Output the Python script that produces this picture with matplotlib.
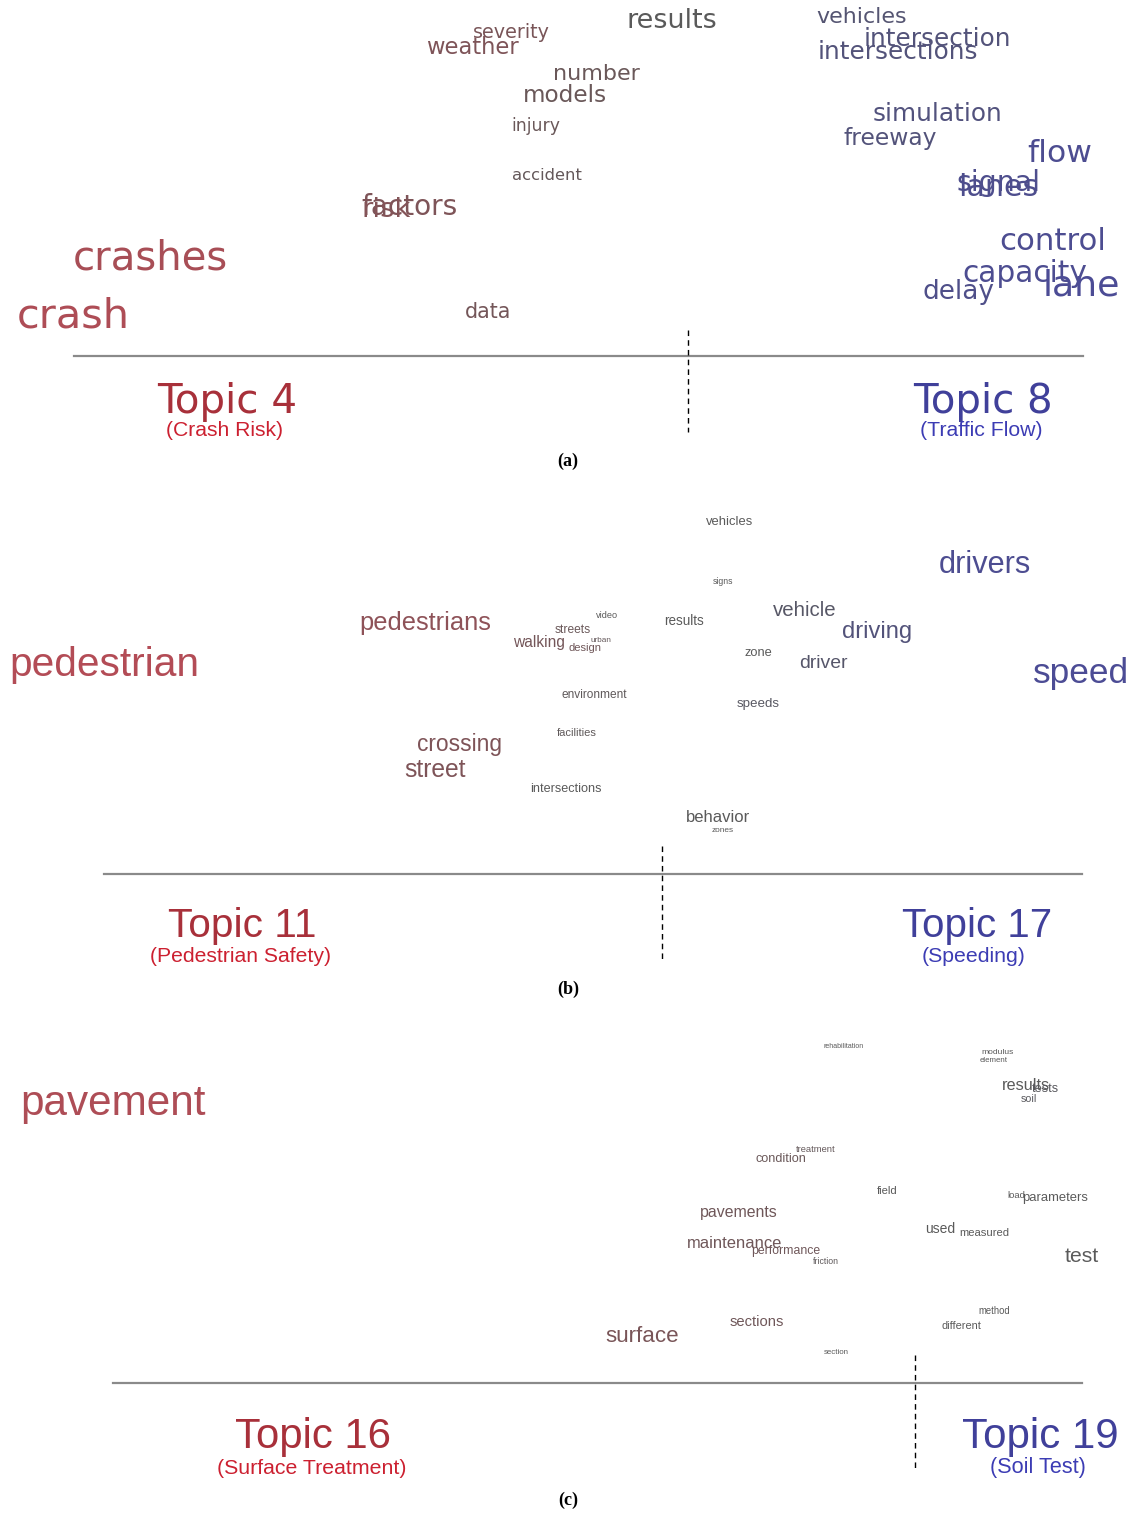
import matplotlib
matplotlib.use("Agg")
import matplotlib.pyplot as plt
from matplotlib.colors import LinearSegmentedColormap

# word lists per panel: word, x, y (pixel layout), width (~frequency), assoc (-1 left topic .. +1 right topic)
a_words = ["severity", "weather", "results", "number", "models", "injury", "accident",
           "factors", "risk", "crashes", "crash", "data", "vehicles", "intersection",
           "intersections", "simulation", "freeway", "flow", "signal", "lanes", "control",
           "capacity", "lane", "delay"]
a_x = [511, 472, 672, 596, 565, 536, 547, 410, 386, 150, 73, 488, 862, 937,
       898, 937, 890, 1060, 998, 998, 1053, 1025, 1081, 958]
a_y = [33, 47, 21, 74, 96, 126, 175, 207, 210, 259, 317, 312, 17, 39,
       52, 114, 138, 154, 183, 188, 242, 274, 286, 292]
a_w = [77, 93, 90, 87, 84, 49, 70, 97, 49, 155, 113, 47, 90, 147,
       159, 129, 94, 65, 84, 80, 107, 126, 78, 72]
a_assoc = [-0.3, -0.35, 0.0, -0.15, -0.15, -0.15, -0.1, -0.35, -0.4, -0.75, -0.8, -0.25,
           0.3, 0.4, 0.4, 0.45, 0.4, 0.7, 0.65, 0.65, 0.7, 0.7, 0.75, 0.6]

b_words = ["vehicles", "signs", "drivers", "pedestrians", "video", "streets", "urban",
           "walking", "design", "results", "vehicle", "driving", "zone", "driver",
           "pedestrian", "speed", "environment", "speeds", "facilities", "crossing",
           "street", "intersections", "behavior", "zones"]
b_x = [730, 723, 985, 425, 607, 573, 601, 539, 585, 684, 805, 877, 758, 823,
       104, 1081, 594, 758, 577, 460, 435, 566, 718, 723]
b_y = [522, 582, 565, 623, 616, 630, 640, 643, 648, 621, 611, 632, 653, 663,
       665, 674, 695, 704, 733, 745, 770, 789, 817, 830]
b_w = [47, 20, 93, 132, 22, 36, 21, 52, 33, 40, 64, 70, 28, 49,
       190, 96, 66, 43, 40, 85, 62, 71, 64, 22]
b_assoc = [0.0, 0.0, 0.7, -0.5, 0.0, -0.15, -0.1, -0.25, -0.2, 0.0, 0.15, 0.4, 0.0, 0.2,
           -0.85, 0.75, -0.05, 0.1, -0.05, -0.35, -0.35, 0.0, 0.0, 0.0]

c_words = ["rehabilitation", "modulus", "element", "results", "tests", "soil", "pavement",
           "treatment", "condition", "field", "load", "parameters", "pavements", "used",
           "measured", "maintenance", "performance", "friction", "test", "method",
           "different", "sections", "surface", "section"]
c_x = [844, 998, 994, 1026, 1045, 1029, 113, 816, 781, 887, 1016, 1055, 739, 940,
       984, 735, 786, 826, 1082, 994, 961, 757, 642, 836]
c_y = [1047, 1052, 1061, 1085, 1089, 1099, 1104, 1149, 1159, 1191, 1196, 1198, 1213, 1229,
       1233, 1243, 1251, 1261, 1256, 1311, 1326, 1322, 1336, 1353]
c_w = [40, 32, 28, 48, 27, 16, 186, 40, 51, 21, 18, 66, 78, 30,
       50, 95, 69, 26, 34, 32, 40, 54, 74, 25]
c_assoc = [0.0, 0.0, 0.0, 0.0, 0.05, 0.05, -0.8, -0.1, -0.15, 0.0, 0.0, 0.0, -0.2, 0.0,
           0.0, -0.2, -0.2, -0.05, 0.0, 0.0, 0.0, -0.2, -0.3, 0.0]

topics = [("Topic 4", "(Crash Risk)", "Topic 8", "(Traffic Flow)"),
          ("Topic 11", "(Pedestrian Safety)", "Topic 17", "(Speeding)"),
          ("Topic 16", "(Surface Treatment)", "Topic 19", "(Soil Test)")]
panel_tags = ["(a)", "(b)", "(c)"]

W, H = 1132, 1515
fig = plt.figure(figsize=(W / 100, H / 100), dpi=100)
renderer = fig.canvas.get_renderer()

cmap = LinearSegmentedColormap.from_list(
    "topic", [(0.0, "#c24a55"), (0.5, "#5a5a5a"), (1.0, "#4848a8")])


def fit_text(ax, x, y, s, width, **kw):
    t = ax.text(x, y, s, fontsize=10, ha="center", va="center", **kw)
    wpx = t.get_window_extent(renderer).width
    t.set_fontsize(10 * width / wpx)
    return t


# pixel bands of the three panels
bands = [(0, 475), (475, 1000), (1000, 1515)]
panels = [(a_words, a_x, a_y, a_w, a_assoc, "DejaVu Sans"),
          (b_words, b_x, b_y, b_w, b_assoc, "Liberation Sans"),
          (c_words, c_x, c_y, c_w, c_assoc, "Liberation Sans")]
# baseline, divider and label layout per panel
axis_y = [356, 874, 1383]
axis_x = [(74, 1083), (104, 1082), (113, 1082)]
div_x = [688, 662, 915]
div_y = [(330, 432), (846, 960), (1355, 1468)]
lab_left = [(227, 225), (242, 240), (313, 312)]
lab_right = [(983, 981), (977, 974), (1040, 1038)]
lab_y = [(402, 430), (926, 957), (1437, 1468)]
lab_w = [(140, 118, 140, 124), (148, 182, 150, 104), (156, 190, 156, 96)]
tag_y = [461, 989, 1500]

for i, (top, bot) in enumerate(bands):
    ax = fig.add_axes([0, 1 - bot / H, 1, (bot - top) / H])
    ax.set_xlim(0, W)
    ax.set_ylim(bot, top)
    ax.axis("off")

    words, xs, ys, ws, assoc, fam = panels[i]
    for w, x, y, wd, a in zip(words, xs, ys, ws, assoc):
        fit_text(ax, x, y, w, wd, color=cmap((a + 1) / 2), family=fam)

    ax.plot(axis_x[i], [axis_y[i], axis_y[i]], color="#8a8a8a", lw=1.6)
    ax.plot([div_x[i], div_x[i]], div_y[i], color="black", lw=1, ls=(0, (4, 3)))

    lt, ls_, rt, rs = topics[i]
    tfam = "DejaVu Sans" if i == 0 else "Liberation Sans"
    fit_text(ax, lab_left[i][0], lab_y[i][0], lt, lab_w[i][0], color="#a8303a", family=tfam)
    fit_text(ax, lab_left[i][1], lab_y[i][1], ls_, lab_w[i][1], color="#cc2030", family="Liberation Sans")
    fit_text(ax, lab_right[i][0], lab_y[i][0], rt, lab_w[i][2], color="#40409a", family=tfam)
    fit_text(ax, lab_right[i][1], lab_y[i][1], rs, lab_w[i][3], color="#3c3cb4", family="Liberation Sans")

    ax.text(568, tag_y[i], panel_tags[i], ha="center", va="center",
            fontsize=13, fontweight="bold", family="Liberation Serif", color="black")

fig.savefig("out.png", dpi=100)
